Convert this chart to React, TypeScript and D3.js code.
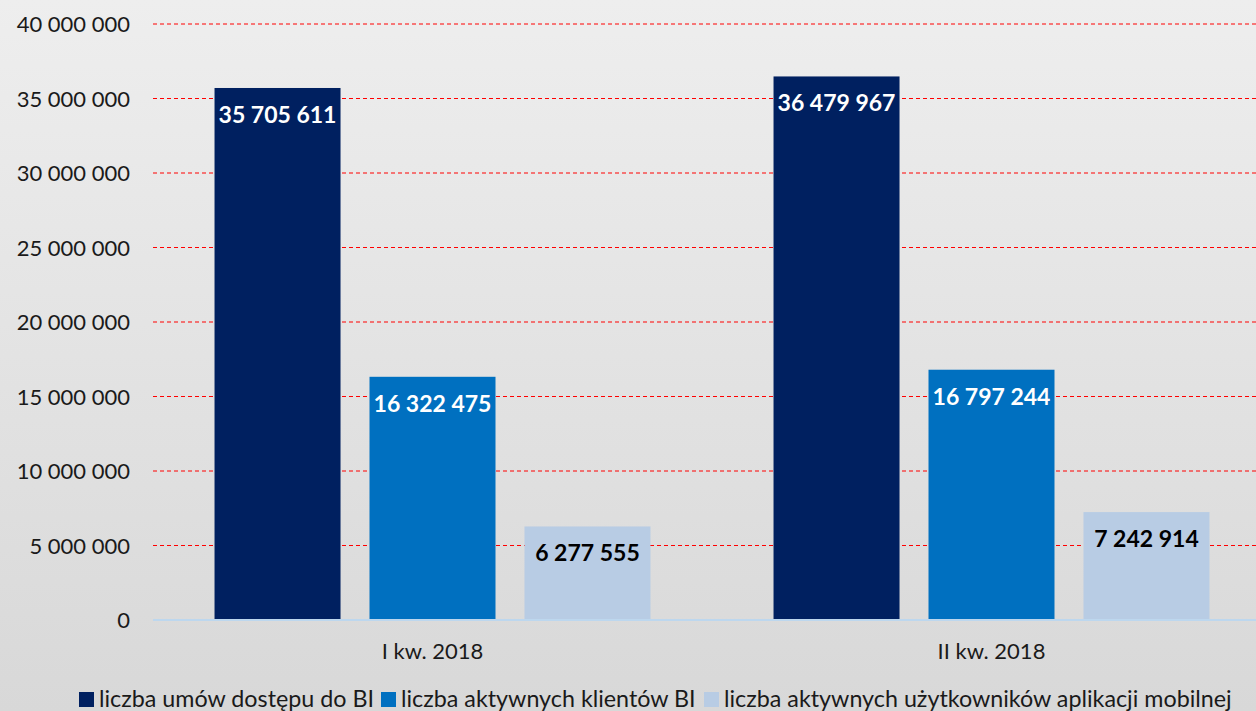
import React from "react";
import * as d3 from "d3";

const categories = ["I kw. 2018", "II kw. 2018"];
const seriesNames = [
  "liczba umów dostępu do BI",
  "liczba aktywnych klientów BI",
  "liczba aktywnych użytkowników aplikacji mobilnej",
];
const umowy = [35705611, 36479967];
const klienci = [16322475, 16797244];
const mobilni = [6277555, 7242914];
const yTicks = [0, 5000000, 10000000, 15000000, 20000000, 25000000, 30000000, 35000000, 40000000];

const colors = ["#002060", "#0070C0", "#B8CCE4"];
const labelColors = ["#ffffff", "#ffffff", "#000000"];

const W = 1256;
const H = 711;
const FONT = "Lato, 'Open Sans', sans-serif";

const fmt = (v: number) => d3.format(",")(v).replace(/,/g, " ");

export default function App() {
  const values = [umowy, klienci, mobilni];
  const y = d3.scaleLinear().domain([0, 40000000]).range([620, 24]);
  const x0 = d3.scaleBand<string>().domain(categories).range([153, 1271]).padding(0);
  const x1 = d3
    .scaleBand<string>()
    .domain(seriesNames)
    .range([0, x0.bandwidth()])
    .paddingInner(0.187)
    .paddingOuter(0.397);

  const legendX = [79, 381, 704];

  return (
    <svg
      width={W}
      height={H}
      style={{ position: "fixed", left: 0, top: 0, display: "block" }}
      fontFamily={FONT}
    >
      <defs>
        <linearGradient id="bg" x1="0" y1="0" x2="0" y2="1">
          <stop offset="0" stopColor="#eeeeee" />
          <stop offset="1" stopColor="#d8d8d8" />
        </linearGradient>
      </defs>
      <rect x={0} y={0} width={W} height={H} fill="url(#bg)" />

      {yTicks.map((t) => (
        <g key={t}>
          {t > 0 && (
            <line
              x1={153}
              x2={W}
              y1={y(t)}
              y2={y(t)}
              stroke="#ff0000"
              strokeWidth={1}
              strokeDasharray="4 3"
            />
          )}
          <text x={130} y={y(t) + 8} textAnchor="end" fontSize={22} fill="#1a1a1a">
            {fmt(t)}
          </text>
        </g>
      ))}

      {categories.map((c, ci) => (
        <g key={c} transform={`translate(${x0(c)},0)`}>
          {seriesNames.map((s, si) => {
            const v = values[si][ci];
            const bx = x1(s)!;
            const bw = x1.bandwidth();
            return (
              <g key={s}>
                <rect x={bx} y={y(v)} width={bw} height={y(0) - y(v)} fill={colors[si]} />
                <text
                  x={bx + bw / 2}
                  y={y(v) + 35}
                  textAnchor="middle"
                  fontSize={23}
                  fontWeight="bold"
                  fill={labelColors[si]}
                >
                  {fmt(v)}
                </text>
              </g>
            );
          })}
          <text
            x={x0.bandwidth() / 2}
            y={659}
            textAnchor="middle"
            fontSize={22}
            fill="#1a1a1a"
          >
            {c}
          </text>
        </g>
      ))}

      <line x1={153} x2={W} y1={y(0)} y2={y(0)} stroke="#BDD7EE" strokeWidth={2} />

      {seriesNames.map((s, si) => (
        <g key={s} transform={`translate(${legendX[si]},0)`}>
          <rect x={0} y={692} width={15} height={15} fill={colors[si]} />
          <text x={20} y={707} fontSize={23.3} fill="#1a1a1a">
            {s}
          </text>
        </g>
      ))}
    </svg>
  );
}
